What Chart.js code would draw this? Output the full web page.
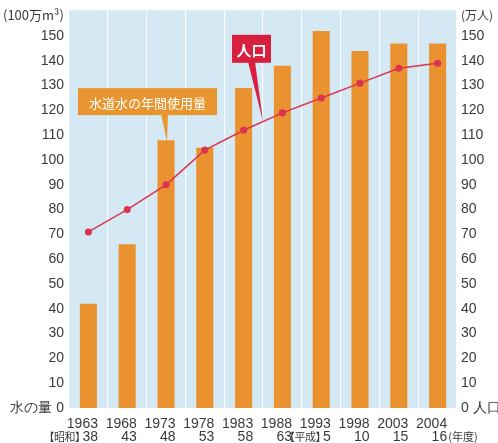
<!DOCTYPE html>
<html>
<head>
<meta charset="utf-8">
<script src="https://cdn.jsdelivr.net/npm/chart.js@4/dist/chart.umd.min.js"></script>
<style>
  html, body { margin: 0; padding: 0; background: #ffffff; }
  #wrap { width: 498px; height: 443px; }
</style>
</head>
<body>
<div id="wrap"><canvas id="c" width="498" height="443"></canvas></div>
<script>
// 年度（西暦）と和暦
const years = ['1963', '1968', '1973', '1978', '1983', '1988', '1993', '1998', '2003', '2004'];
const eras = ['38', '43', '48', '53', '58', '63', '5', '10', '15', '16'];
const eraPrefix = { 0: '【昭和】', 6: '【平成】' };
const eraSuffix = { 9: '(年度)' };

// 水道水の年間使用量（100万m³）
const waterUse = [42, 66, 108, 105, 129, 138, 152, 144, 147, 147];
// 人口（万人）
const population = [71, 80, 90, 104, 112, 119, 125, 131, 137, 139];

// 目盛り
const tickValues = [0, 10, 20, 30, 40, 50, 60, 70, 80, 90, 100, 110, 120, 130, 140, 150];

const FONT = '"Liberation Sans", Arial, sans-serif';
const JP = '"Noto Sans CJK JP", "Liberation Sans", sans-serif';
const TEXT = '#3a3a3a';
const YEAR_SHIFT = -6;

function setTicks(scale) {
  scale.ticks = tickValues.map(v => ({ value: v }));
}

const decorPlugin = {
  id: 'decor',
  beforeDraw(chart) {
    const { ctx, chartArea: a } = chart;
    ctx.save();
    ctx.fillStyle = '#d4e9f3';
    ctx.fillRect(a.left, a.top, a.right - a.left, a.bottom - a.top);
    ctx.restore();
  },
  afterDatasetsDraw(chart) {
    const { ctx, chartArea: a } = chart;
    const x = chart.scales.x, yL = chart.scales.y, yR = chart.scales.y2;
    ctx.save();

    // 水道水の年間使用量 ラベル
    const wx = x.getPixelForValue(2), wy = yL.getPixelForValue(waterUse[2]);
    const bx = 78, by = yL.getPixelForValue(129), bw = 139, bh = 27;
    ctx.fillStyle = '#e9952f';
    ctx.beginPath();
    ctx.moveTo(wx - 5, by + bh - 1);
    ctx.lineTo(wx + 1, wy + 1);
    ctx.lineTo(wx + 2, by + bh - 1);
    ctx.closePath();
    ctx.fill();
    ctx.fillRect(bx, by, bw, bh);
    ctx.fillStyle = '#ffffff';
    ctx.font = '13px ' + JP;
    ctx.textAlign = 'center';
    ctx.textBaseline = 'middle';
    ctx.fillText('水道水の年間使用量', bx + bw / 2, by + bh / 2 + 1);

    // 人口 ラベル
    const px = (x.getPixelForValue(4) + x.getPixelForValue(5)) / 2;
    const py = yR.getPixelForValue((population[4] + population[5]) / 2);
    const rx = 232, ry = yR.getPixelForValue(150.5), rw = 39, rh = 28;
    ctx.fillStyle = '#d81f3e';
    ctx.beginPath();
    ctx.moveTo(rx + 16, ry + rh - 1);
    ctx.lineTo(px, py);
    ctx.lineTo(rx + 23, ry + rh - 1);
    ctx.closePath();
    ctx.fill();
    ctx.fillRect(rx, ry, rw, rh);
    ctx.fillStyle = '#ffffff';
    ctx.font = 'bold 15px ' + JP;
    ctx.fillText('人口', rx + rw / 2, ry + rh / 2 + 1);

    // 単位
    ctx.fillStyle = TEXT;
    ctx.font = '13px ' + JP;
    ctx.textAlign = 'left';
    ctx.fillText('(100万m³)', 3, 15);
    ctx.font = '12px ' + JP;
    ctx.fillText('(万人)', 461, 15);

    // 和暦の行（西暦の右端にそろえる）
    ctx.textBaseline = 'top';
    const ey = a.bottom + 22;
    eras.forEach((e, i) => {
      ctx.font = '14px ' + FONT;
      const yw = ctx.measureText(years[i]).width;
      const right = x.getPixelForValue(i) + YEAR_SHIFT + yw / 2;
      ctx.textAlign = 'right';
      ctx.fillText(e, right, ey);
      const w = ctx.measureText(e).width;
      if (eraPrefix[i]) {
        ctx.font = '11px ' + JP;
        ctx.letterSpacing = '-0.5px';
        ctx.fillText(eraPrefix[i], right - w + 3, ey + 1);
        ctx.letterSpacing = '0px';
      }
      if (eraSuffix[i]) {
        ctx.font = '11px ' + JP;
        ctx.textAlign = 'left';
        ctx.fillText(eraSuffix[i], right + 1, ey + 1);
      }
    });
    ctx.restore();
  }
};

new Chart(document.getElementById('c'), {
  data: {
    labels: years,
    datasets: [
      {
        type: 'line',
        label: '人口',
        data: population,
        yAxisID: 'y2',
        borderColor: '#db3450',
        backgroundColor: '#db3450',
        borderWidth: 1.5,
        pointRadius: 2.8,
        pointHoverRadius: 2.8,
        tension: 0,
        order: 0
      },
      {
        type: 'bar',
        label: '水道水の年間使用量',
        data: waterUse,
        yAxisID: 'y',
        backgroundColor: '#ea9230',
        borderWidth: 0,
        barPercentage: 0.44,
        categoryPercentage: 1.0,
        order: 1
      }
    ]
  },
  options: {
    responsive: false,
    animation: false,
    layout: { padding: { top: 10, left: 0, right: 0, bottom: 0 } },
    plugins: { legend: { display: false }, tooltip: { enabled: false } },
    scales: {
      x: {
        offset: true,
        grid: { display: true, offset: true, color: 'rgba(255,255,255,0.85)', lineWidth: 1.2, drawTicks: false },
        border: { display: false },
        ticks: { color: TEXT, font: { family: FONT, size: 14 }, padding: 8, labelOffset: YEAR_SHIFT, maxRotation: 0, autoSkip: false },
        afterFit(s) { s.height = 35; s.paddingLeft = 0; s.paddingRight = 0; }
      },
      y: {
        position: 'left',
        min: 0,
        max: 160.5,
        afterBuildTicks: setTicks,
        grid: { display: false, drawTicks: false },
        border: { display: false },
        ticks: {
          color: TEXT,
          padding: 5,
          font: { family: FONT, size: 14 },
          callback: v => (v === 0 ? '水の量 0' : String(v))
        },
        afterFit(s) { s.width = 69; s.paddingTop = 0; s.paddingBottom = 0; }
      },
      y2: {
        position: 'right',
        min: 0,
        max: 160.5,
        afterBuildTicks: setTicks,
        grid: { display: false, drawTicks: false },
        border: { display: false },
        ticks: {
          color: TEXT,
          padding: 4,
          font: { family: FONT, size: 14 },
          callback: v => (v === 0 ? '0 人口' : String(v))
        },
        afterFit(s) { s.width = 41; s.paddingTop = 0; s.paddingBottom = 0; }
      }
    }
  },
  plugins: [decorPlugin]
});
</script>
</body>
</html>
